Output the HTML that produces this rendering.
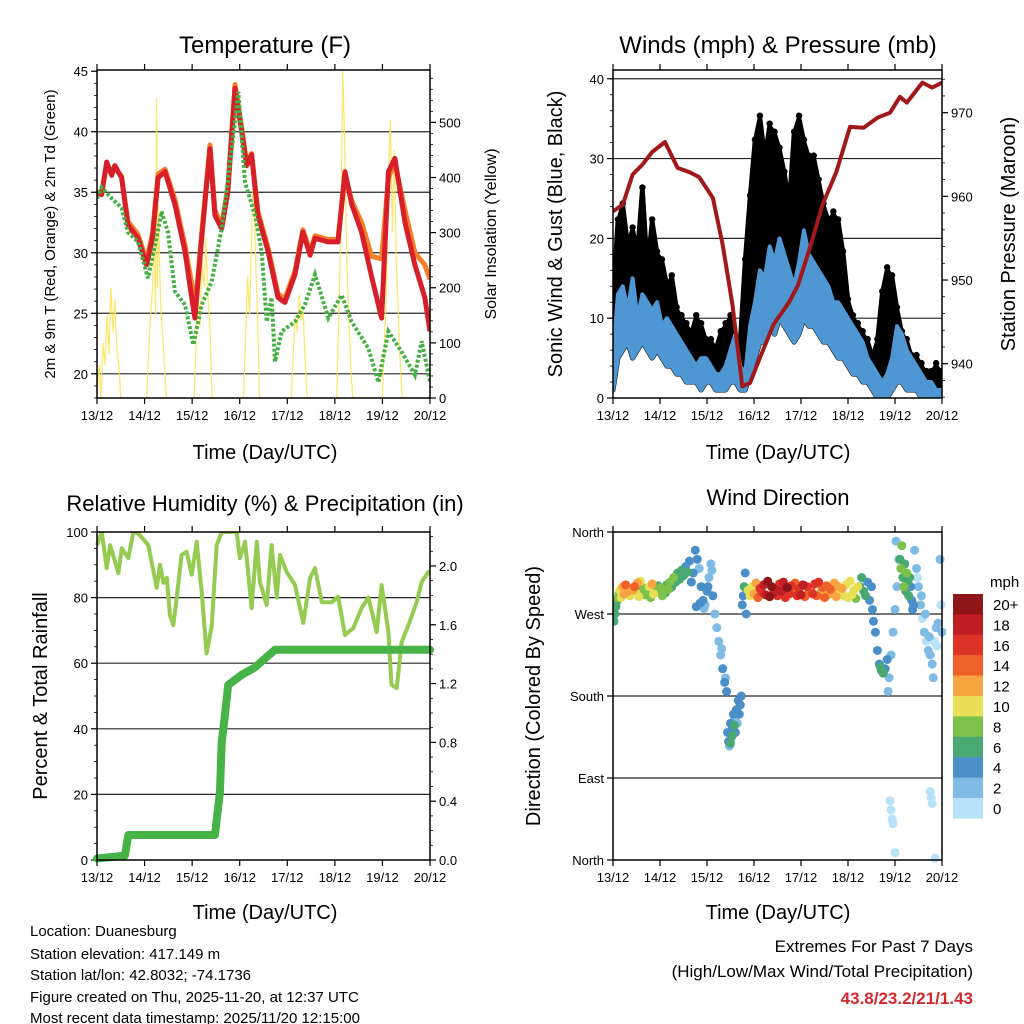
<!DOCTYPE html>
<html><head><meta charset="utf-8"><style>
html,body{margin:0;padding:0;background:#fff;}
svg{display:block;font-family:"Liberation Sans",Arial,sans-serif;}
</style></head><body>
<svg id="chart" width="1024" height="1024" viewBox="0 0 1024 1024" xmlns="http://www.w3.org/2000/svg">
<rect x="0" y="0" width="1024" height="1024" fill="#fff"/>
<text x="265" y="53" font-size="24" text-anchor="middle">Temperature (F)</text>
<text x="778" y="53" font-size="24" text-anchor="middle">Winds (mph) &amp; Pressure (mb)</text>
<text x="265" y="511" font-size="22" text-anchor="middle">Relative Humidity (%) &amp; Precipitation (in)</text>
<text x="778" y="505" font-size="22" text-anchor="middle">Wind Direction</text>
<text x="265" y="459" font-size="20" text-anchor="middle">Time (Day/UTC)</text>
<text x="778" y="459" font-size="20" text-anchor="middle">Time (Day/UTC)</text>
<text x="265" y="919" font-size="20" text-anchor="middle">Time (Day/UTC)</text>
<text x="778" y="919" font-size="20" text-anchor="middle">Time (Day/UTC)</text>
<text transform="translate(55,234) rotate(-90)" font-size="15" text-anchor="middle">2m &amp; 9m T (Red, Orange) &amp; 2m Td (Green)</text>
<text transform="translate(496,234) rotate(-90)" font-size="16" text-anchor="middle">Solar Insolation (Yellow)</text>
<text transform="translate(562,234) rotate(-90)" font-size="20" text-anchor="middle">Sonic Wind &amp; Gust (Blue, Black)</text>
<text transform="translate(1015,234) rotate(-90)" font-size="20" text-anchor="middle">Station Pressure (Maroon)</text>
<text transform="translate(47,696) rotate(-90)" font-size="20" text-anchor="middle">Percent &amp; Total Rainfall</text>
<text transform="translate(540,696) rotate(-90)" font-size="20" text-anchor="middle">Direction (Colored By Speed)</text>
<g font-size="15">
<text x="30" y="936">Location: Duanesburg</text>
<text x="30" y="959">Station elevation: 417.149 m</text>
<text x="30" y="980">Station lat/lon: 42.8032; -74.1736</text>
<text x="30" y="1002">Figure created on Thu, 2025-11-20, at 12:37 UTC</text>
<text x="30" y="1023">Most recent data timestamp: 2025/11/20 12:15:00</text>
</g>
<g text-anchor="end">
<text x="973" y="952" font-size="17">Extremes For Past 7 Days</text>
<text x="973" y="977" font-size="17">(High/Low/Max Wind/Total Precipitation)</text>
<text x="973" y="1004" font-size="17" font-weight="bold" fill="#d42a2f">43.8/23.2/21/1.43</text>
</g>
</svg>
<script>
const dayLabels=["13/12","14/12","15/12","16/12","17/12","18/12","19/12","20/12"];
// Temperature (red 2m, orange 9m) and dewpoint
const tempHours=[0,2.3,4.9,7.4,9,12.4,15.6,20.7,25,28,30.8,34.3,39.3,44.4,47.8,49.4,52.8,57,59.5,62.9,66,69.6,73,75.5,78,81.2,86.3,91.3,94.8,99.9,103.9,107.5,110,116.5,121.6,125.1,128.5,133.5,138.6,143.6,147,150.3,155.4,160.4,165.4,168];
const tempRed=[35,34.8,37.5,36.4,37.2,36.2,32.3,31.2,29.0,31.2,36.2,36.7,34.0,30.1,26.3,24.6,31.2,38.6,33.1,32.0,35.0,43.6,40.0,37.2,38.1,33.1,30.1,26.3,25.9,28.2,31.7,29.8,31.2,30.9,30.9,36.7,34.0,31.7,28.0,24.6,36.7,37.8,32.5,29.0,26.3,23.5];
const tempOrange=[35,35,37.3,36.6,37.0,36.3,32.6,31.5,29.3,31.6,36.5,36.9,34.4,30.6,27.4,25.2,31.6,38.9,33.5,32.3,35.3,43.9,40.3,37.4,38.2,33.4,30.4,26.6,26.2,28.5,31.9,30.1,31.4,31.1,31.1,36.5,34.3,32.5,29.7,29.5,36.2,37.4,33.5,30.0,29.0,27.8];
const dewHours=[0,2.3,7.4,12.4,15.6,20.7,25.7,30,32.6,35.8,39.3,44.4,48.6,52.8,57.8,62.9,68,71.3,74.7,79.7,83.1,85.6,88.1,89.8,93.2,99.9,104.9,110,116.7,123.4,128.5,136.9,141.9,147,153.7,160.4,163.8,168];
const dewValues=[34.5,35.4,34.5,33.7,31.7,30.9,27.9,31.2,33.4,31.7,26.8,25.7,22.4,25.7,27.6,32.0,38.6,43.3,35.8,33.1,30.1,24.3,26.3,21.0,23.5,24.3,25.7,28.2,24.6,26.5,24.3,22.1,19.3,23.5,21.8,19.9,22.7,19.3];
const solarHours=[0,1,2,3,4,5,6,7,8,9,10,11,12,13,25,26,27,28,29,29.5,30,30.5,31,32,33,34,35,49,50,51,52,53,54,55,56,57,58,74,75,76,77,78,79,80,81,82,98,99,100,101,102,103,104,105,106,121,122,123,124,125,126,127,128,129,144,145,146,147,148,149,150,151,152,153,154,168];
const solarValues=[0,60,0,100,60,150,80,200,120,180,90,60,0,0,0,80,150,200,300,150,545,200,350,180,120,60,0,0,100,190,130,250,200,290,180,130,0,0,120,220,150,300,418,250,150,0,0,80,150,120,187,140,160,70,0,0,150,300,593,450,250,150,60,0,0,100,200,400,505,300,450,250,150,60,0,0];
const tempTicks=[20,25,30,35,40,45];
const solarTicks=[0,100,200,300,400,500];
// Winds & pressure
const presHours=[0,5,10,15,20,26.5,33,39,44,51,56,61,66,70,75,82,90,94.5,101,107,114,121,128,135,141.5,146.5,150,158,163,168];
const presValues=[958.2,959.0,962.6,963.8,965.3,966.5,963.4,962.9,962.3,959.8,954.2,947.0,937.3,937.7,940.7,944.7,947.4,949.4,954.2,959.0,962.9,968.3,968.2,969.4,970.0,971.9,971.2,973.6,973.0,973.6];
const windHours=[0,2.5,5,7.5,10,12.5,15,17.5,20,22.5,25,27.5,30,32.5,35,37.5,40,42.5,45,47.5,50,52.5,55,57.5,60,62.5,65,67.5,70,72.5,75,77.5,80,82.5,85,87.5,90,92.5,95,97.5,100,102.5,105,107.5,110,112.5,115,117.5,120,122.5,125,127.5,130,132.5,135,137.5,140,142.5,145,147.5,150,152.5,155,157.5,160,162.5,165,167.5,168];
const gustHigh=[12,22,24,19,21,18,26,16,22,18,17,14,15,11,10,9,8,10,9,7,7,6,8,9,10,6,7,17,25,32,35,30,34,33,31,28,24,33,35,32,30,30,27,24,22,23,22,18,12,10,9,8,7,5,7,13,16,15,11,8,7,5,5,4,3,3,4,3,2];
const sonicHigh=[5,13,14,11,15,10,13,12,11,12,9,10,9,8,7,6,5,4,5,5,4,3,3,4,6,8,4,3,9,12,16,15,19,17,20,18,16,14,17,21,18,17,16,15,14,12,12,11,10,9,8,7,5,4,3,2,3,5,9,8,6,5,4,3,2,2,1,1,0.5];
const sonicLow=[1,5,6,7,5,6,7,6,5,6,5,4,4,3,3,2,2,2,1,2,2,1,1,1,2,2,1,1,3,5,7,7,9,8,10,9,8,7,8,10,9,9,8,7,7,6,5,5,4,3,3,2,2,1,0,0,0,1,2,2,1,1,1,0,0,0,0,0,0];
const windTicks=[0,10,20,30,40];
const presTicks=[940,950,960,970];
// Humidity & precipitation
const rhHours=[0,2.4,4.9,6.6,10.8,12.5,15.8,18.3,20.8,25.9,30.1,31.8,33.5,35.2,36.8,38.5,40.2,42.7,45.2,47.8,50.3,52.8,55.3,57.9,60.4,62.9,70.5,72.1,74.7,78,80.6,82.2,85.6,88.1,90.7,92.3,95.7,99.9,104.1,107.5,110,113.4,118.4,121.7,125.1,129.3,133.5,136.9,141.1,143.6,147,148.6,151.2,153.7,157.1,161.3,163.8,167.2,168];
const rhValues=[96,100,89,96,87.5,95,92,100,99.6,96,83,90,84.5,86,74.7,71.6,80,93,94,87,97,81.7,63,71.6,96,100,100,92,97,76.8,97,84.8,77.7,96,80,93,87.8,83.8,72.3,86,89,78.6,78.6,80.2,68.6,70.7,76.8,80,69.5,83.8,69.5,53.4,52.4,66.5,71.6,78.6,84.8,87.8,88];
const rainHours=[0,14.1,15.8,59.5,62,62.9,64.6,66.2,73,79.7,83,89.8,168];
const rainValues=[0.01,0.03,0.17,0.17,0.46,0.8,0.99,1.19,1.26,1.31,1.35,1.43,1.43];
const rhTicks=[0,20,40,60,80,100];
const rainTicks=[0.0,0.4,0.8,1.2,1.6,2.0];
// Wind direction
const dirHours=[0.5,1,1.5,2,2.5,3,
3.5,5,6.5,8,9.5,11,12.5,14,15.5,17,18.5,20,21.5,23,24.5,26,27.5,29,
4.2,5.7,7.2,8.7,10.2,11.7,13.2,14.7,16.2,17.7,19.2,20.7,22.2,23.7,25.2,26.7,28.2,29.7,
30,31,32,33,34,35,36,37,38,39,40,41,
42,43,44,45,46,47,48,49,50,51,42.5,44.5,46.5,48.5,50.5,
52,53,54,55,56,57,58,55.5,57.5,
58.5,59,59.5,60,60.5,61,61.5,62,62.5,63,63.5,64,64.5,65,65.5,60,61,62,
66,66.5,67,67.5,68,
69,71,73,75,77,79,81,83,85,87,89,91,93,95,97,99,101,103,105,107,109,111,113,115,117,119,121,123,125,
70,72,74,76,78,80,82,84,86,88,90,92,94,96,98,100,102,104,106,108,110,112,114,116,118,120,122,124,
126,127,128,129,130,131,132,
132.5,133,134,135,136,137,138,139,140,136.5,137.5,
140.5,141,142,143,144,145,146,144.5,
141.5,142,142.5,143,144,162,162.5,163,164.5,
146.5,147,147.5,148,148.5,149,149.5,150,150.5,151,151.5,152,152.5,153,153.5,
154,155,156,157,158,159,160,161,162,163,164,165,166,167,168,155.5,157.5,159.5,161.5,163.5,165.5,167.5];
const dirValues=[262,270,278,284,288,292,
296,300,302,298,295,300,304,306,299,296,300,303,297,301,299,296,302,305,
288,292,294,290,296,293,289,297,291,295,288,292,298,294,290,293,297,299,
300,310,305,315,308,318,312,322,316,328,305,315,
340,330,320,300,285,280,295,310,325,290,278,282,276,300,318,
270,255,240,225,210,195,185,232,200,
140,130,125,150,135,145,160,155,140,165,150,175,160,170,180,128,137,148,
280,290,300,315,270,
296,300,304,298,302,306,300,297,303,305,299,301,304,298,302,300,296,303,305,299,301,297,304,300,298,302,306,296,300,
290,292,288,294,291,289,293,290,295,288,292,294,290,291,289,293,292,290,294,288,291,293,289,292,290,288,291,287,
300,310,295,290,305,285,300,
275,262,250,230,215,208,205,210,220,212,207,
185,200,225,250,275,300,330,350,
65,55,45,40,8,75,68,62,2,
330,320,345,310,300,325,295,315,305,290,310,300,285,275,280,
340,320,300,280,265,250,240,230,225,215,240,255,260,330,250,310,290,270,245,200,235,280];
const dirSpeeds=[6,6,6,7,8,9,
10,13,14,12,11,14,12,11,9,8,10,12,8,7,8,9,7,8,
11,12,13,10,12,11,10,9,8,8,9,10,7,8,9,7,8,7,
7,8,7,6,7,7,6,5,6,5,4,4,
4,4,3,4,4,3,4,2,3,4,4,4,3,4,2,
2,2,2,3,4,4,4,2,3,
4,4,3,4,5,4,4,3,5,4,3,4,4,4,5,6,7,6,
4,4,6,4,5,
10,11,13,16,18,20,21,19,17,18,20,16,15,17,18,16,15,17,16,14,15,14,13,12,12,11,11,10,10,
11,12,14,17,19,21,18,17,19,16,17,15,16,18,15,14,16,15,13,14,13,12,12,11,10,11,10,9,
6,6,7,6,5,5,4,
4,4,4,4,4,6,6,5,4,7,6,
2,3,3,2,3,3,3,2,
1,1,1,1,1,1,1,1,1,
6,8,9,7,8,7,6,8,7,6,7,5,4,4,4,
2,2,2,2,1,2,1,2,3,2,1,2,3,2,2,1,2,2,3,2,1,1];
const speedLabels=["20+","18","16","14","12","10","8","6","4","2","0"];
const speedColors=["#8e1518","#be1e24","#dd3327","#f06129","#f7a541","#e7e057","#7cc24a","#4aa872","#4a8fc8","#7fbbe5","#b8e2f7"];
const dirLabels=["North","West","South","East","North"];
const dirTicks=[360,270,180,90,0];

const NS="http://www.w3.org/2000/svg";
const svg=document.getElementById("chart");
function mk(tag,attrs,parent){const e=document.createElementNS(NS,tag);for(const k in attrs)e.setAttribute(k,attrs[k]);(parent||svg).appendChild(e);return e;}
function lin(d0,d1,r0,r1){return v=>r0+(v-d0)/(d1-d0)*(r1-r0);}
function pts(xs,ys,fx,fy){return xs.map((h,i)=>fx(h).toFixed(1)+","+fy(ys[i]).toFixed(1)).join(" ");}

function frame(name,x0,y0,x1,y1){
  const g=mk("g",{});
  
  
  mk("rect",{x:x0,y:y0,width:x1-x0,height:y1-y0,fill:"none",stroke:"#000","stroke-width":1.5},g);
  const fx=lin(0,168,x0,x1);
  dayLabels.forEach((lab,i)=>{
    const x=fx(i*24);
    mk("line",{x1:x,x2:x,y1:y1,y2:y1+6,stroke:"#000","stroke-width":1.2},g);
    mk("line",{x1:x,x2:x,y1:y0,y2:y0-6,stroke:"#000","stroke-width":1.2},g);
    const t=mk("text",{x:x,y:y1+22,"font-size":13,"text-anchor":"middle"},g);
    
    
    t.textContent=lab;
  });
  return fx;
}
function yAxis(name,ticks,fy,x,side,minorStep,d0,d1,labels,gridX0,gridX1,grid){
  const g=mk("g",{});
  
  
  const dir=side==="left"?-1:1;
  for(let v=d0;v<=d1+1e-9;v+=minorStep){mk("line",{x1:x,x2:x+dir*3,y1:fy(v),y2:fy(v),stroke:"#000","stroke-width":0.8},g);}
  ticks.forEach((v,i)=>{
    const y=fy(v);
    mk("line",{x1:x,x2:x+dir*6,y1:y,y2:y,stroke:"#000","stroke-width":1.2},g);
    if(grid&&grid(v))mk("line",{x1:gridX0,x2:gridX1,y1:y,y2:y,stroke:"#000","stroke-width":1.2,"stroke-opacity":0.85},g);
    const t=mk("text",{x:x+dir*9,y:y+5,"font-size":13,"text-anchor":side==="left"?"end":"start"},g);
    
    
    t.textContent=labels?labels[i]:v;
  });
}

// ---------- Panel 1: Temperature ----------
{
 const x0=97,x1=430,y0=70,y1=398;
 const fy=lin(18,45.1,y1,y0), fs=lin(0,595,y1,y0);
 const clip=mk("clipPath",{id:"c1"});mk("rect",{x:x0,y:y0,width:x1-x0,height:y1-y0},clip);
 yAxis("temp-y-axis",tempTicks,fy,x0,"left",1,18,45,null,x0,x1,v=>v<45);
 const fx=lin(0,168,x0,x1);
 const g=mk("g",{"clip-path":"url(#c1)"});
 let e=mk("polyline",{points:pts(solarHours,solarValues,fx,fs),fill:"none",stroke:"#fde35a","stroke-width":1.3,"stroke-opacity":0.85},g);
 
 e=mk("polyline",{points:pts(tempHours,tempOrange,fx,fy),fill:"none",stroke:"#f47f2a","stroke-width":5,"stroke-linejoin":"round"},g);
 
 e=mk("polyline",{points:pts(tempHours,tempRed,fx,fy),fill:"none",stroke:"#d71f29","stroke-width":5,"stroke-linejoin":"round"},g);
 
 e=mk("polyline",{points:pts(dewHours,dewValues,fx,fy),fill:"none",stroke:"#46b045","stroke-width":4,"stroke-dasharray":"3 2"},g);
 
 yAxis("solar-y-axis",solarTicks,fs,x1,"right",20,0,580,null);
 frame("temperature",x0,y0,x1,y1);
}
// ---------- Panel 2: Winds ----------
{
 const x0=613,x1=942,y0=70,y1=398;
 const fy=lin(0,41.1,y1,y0), fp=lin(935.9,975.1,y1,y0);
 const fx=lin(0,168,x0,x1);
 const cp=mk("clipPath",{id:"c2"});mk("rect",{x:x0,y:y0,width:x1-x0,height:y1-y0},cp);
 yAxis("wind-y-axis",windTicks,fy,x0,"left",2,0,40,null,x0,x1,v=>v>0);
 const g=mk("g",{"clip-path":"url(#c2)"});
 const up=windHours.map((h,i)=>fx(h).toFixed(1)+","+fy(gustHigh[i]).toFixed(1));
 const dn=windHours.map((h,i)=>fx(h).toFixed(1)+","+fy(sonicLow[i]).toFixed(1)).reverse();
 let e=mk("polygon",{points:up.concat(dn).join(" "),fill:"#000","stroke":"#000","stroke-width":5,"stroke-linejoin":"round"},g);
 
 windHours.forEach((h,i)=>{
   const c=mk("circle",{cx:fx(h),cy:fy(gustHigh[i])-3,r:3.2,fill:"#000"},g);
   
   
 });
 const up2=windHours.map((h,i)=>fx(h).toFixed(1)+","+fy(sonicHigh[i]).toFixed(1));
 e=mk("polygon",{points:up2.concat(dn).join(" "),fill:"#4f97d2",stroke:"#4f97d2","stroke-width":4,"stroke-linejoin":"round"},g);
 
 e=mk("polyline",{points:pts(presHours,presValues,fx,fp),fill:"none",stroke:"#a0191b","stroke-width":4,"stroke-linejoin":"round"},g);
 
 yAxis("pressure-y-axis",presTicks,fp,x1,"right",2,936,974,null);
 frame("winds",x0,y0,x1,y1);
}
// ---------- Panel 3: Humidity ----------
{
 const x0=97,x1=430,y0=532,y1=860;
 const fy=lin(0,100,y1,y0), fr=lin(0,2.231,y1,y0);
 const fx=lin(0,168,x0,x1);
 const cp=mk("clipPath",{id:"c3"});mk("rect",{x:x0-6,y:y0,width:x1-x0+12,height:y1-y0+6},cp);
 yAxis("humidity-y-axis",rhTicks,fy,x0,"left",5,0,100,null,x0,x1,v=>v>0&&v<100);
 const g=mk("g",{"clip-path":"url(#c3)"});
 let e=mk("polyline",{points:pts(rhHours,rhValues,fx,fy),fill:"none",stroke:"#94cb50","stroke-width":4,"stroke-linejoin":"round"},g);
 
 e=mk("polyline",{points:pts(rainHours,rainValues,fx,fr),fill:"none",stroke:"#47b347","stroke-width":8,"stroke-linejoin":"round","stroke-linecap":"round"},g);
 
 yAxis("rain-y-axis",rainTicks,fr,x1,"right",0.1,0,2.2,rainTicks.map(v=>v.toFixed(1)));
 frame("humidity",x0,y0,x1,y1);
}
// ---------- Panel 4: Wind direction ----------
{
 const x0=613,x1=942,y0=532,y1=860;
 const fy=lin(0,360,y1,y0);
 const fx=lin(0,168,x0,x1);
 yAxis("direction-y-axis",dirTicks,fy,x0,"left",90,0,360,dirLabels,x0,x1,v=>v>0&&v<360);
 const cp=mk("clipPath",{id:"c4"});mk("rect",{x:x0,y:y0-4,width:x1-x0+4,height:y1-y0+8},cp);
 const g=mk("g",{"clip-path":"url(#c4)"});
 const order=dirHours.map((h,i)=>i).sort((a,b)=>dirSpeeds[a]-dirSpeeds[b]);
 order.forEach(i=>{
   const s=dirSpeeds[i];
   const idx=Math.max(0,Math.min(10,10-Math.floor(s/2)));
   const c=mk("circle",{cx:fx(dirHours[i]),cy:fy(dirValues[i]),r:4.5,fill:speedColors[idx]},g);
   
   
 });
 frame("direction",x0,y0,x1,y1);
 const lg=mk("g",{});
 
 
 const t0=mk("text",{x:990,y:587,"font-size":15},lg);t0.textContent="mph";
 speedColors.forEach((c,i)=>{
   const r=mk("rect",{x:953,y:594+i*20.4,width:30,height:20.6,fill:c},lg);
   
   
   const t=mk("text",{x:993,y:610+i*20.4,"font-size":15},lg);
   
   
   t.textContent=speedLabels[i];
 });
}
</script>
</body></html>
